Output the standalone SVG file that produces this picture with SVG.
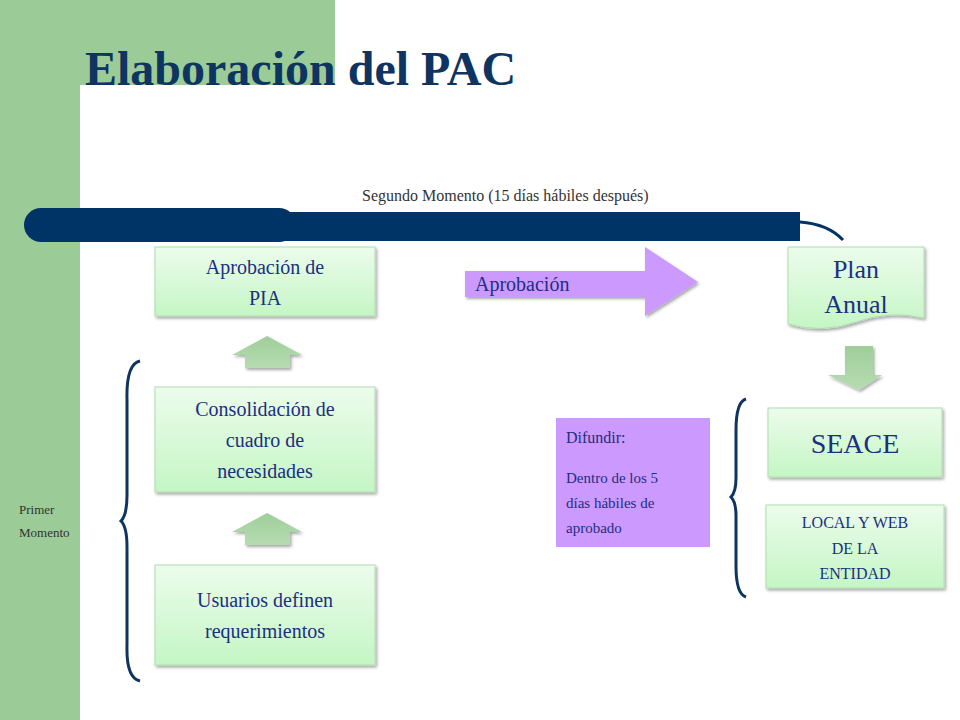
<svg xmlns="http://www.w3.org/2000/svg" width="960" height="720" viewBox="0 0 960 720">
<defs>
<linearGradient id="g" x1="0" y1="0" x2="0" y2="1"><stop offset="0" stop-color="#ecfcec"/><stop offset="1" stop-color="#c4f6c4"/></linearGradient>
<linearGradient id="ga" x1="0" y1="0" x2="0" y2="1"><stop offset="0" stop-color="#9fce9a"/><stop offset="1" stop-color="#b6dcb2"/></linearGradient>
<filter id="sh" x="-10%" y="-10%" width="130%" height="130%"><feDropShadow dx="1.5" dy="2" stdDeviation="1.5" flood-color="#000" flood-opacity="0.35"/></filter>
<style>
.box{fill:url(#g);stroke:#b0dcb0;stroke-width:1;filter:url(#sh)}
.t{font-family:"Liberation Serif",serif;fill:#1c2f80;text-anchor:middle}
.br{fill:none;stroke:#0e3461;stroke-width:3}
.ga{fill:url(#ga);filter:url(#sh)}
</style>
</defs>
<rect width="960" height="720" fill="#fff"/>
<rect x="0" y="0" width="80" height="720" fill="#9bcb97"/>
<rect x="0" y="0" width="335" height="85" fill="#9bcb97"/>
<path d="M80 720 V115 Q80 85 110 85 H335 V720 Z" fill="#fff"/>
<text x="85" y="85" font-family="Liberation Serif,serif" font-size="48" font-weight="bold" fill="#0e3461">Elaboración del PAC</text>
<text x="362" y="201" font-family="Liberation Serif,serif" font-size="16" fill="#333">Segundo Momento (15 días hábiles después)</text>
<g id="bar">
<rect x="24" y="208" width="272" height="34" rx="17" fill="#003366"/>
<rect x="60" y="212" width="740" height="29" fill="#003366"/>
<path d="M800 222 Q828 224 843 240" fill="none" stroke="#003366" stroke-width="3"/>
</g>
<g id="n-pia"><rect class="box" x="155" y="247" width="220" height="69"/><text class="t" font-size="20"><tspan x="265" y="274">Aprobación de</tspan><tspan x="265" y="305">PIA</tspan></text></g>
<g id="n-cons"><rect class="box" x="155" y="387" width="220" height="105"/><text class="t" font-size="20"><tspan x="265" y="416">Consolidación de</tspan><tspan x="265" y="447">cuadro de</tspan><tspan x="265" y="478">necesidades</tspan></text></g>
<g id="n-usu"><rect class="box" x="155" y="565" width="220" height="100"/><text class="t" font-size="20"><tspan x="265" y="607">Usuarios definen</tspan><tspan x="265" y="638">requerimientos</tspan></text></g>
<g id="n-plan"><path class="box" d="M788 247 H924 V318 Q890 310 856 322 Q822 334 788 324 Z"/><text class="t" font-size="26"><tspan x="856" y="278">Plan</tspan><tspan x="856" y="313">Anual</tspan></text></g>
<g id="n-seace"><rect class="box" x="768" y="408" width="174" height="69"/><text class="t" font-size="28" x="855" y="453">SEACE</text></g>
<g id="n-local"><rect class="box" x="766" y="505" width="178" height="83"/><text class="t" font-size="16"><tspan x="855" y="528">LOCAL  Y  WEB</tspan><tspan x="855" y="554">DE LA</tspan><tspan x="855" y="579">ENTIDAD</tspan></text></g>
<g id="n-dif"><rect x="556" y="418" width="154" height="129" fill="#cc99ff"/><text font-family="Liberation Serif,serif" fill="#1c2f80" font-size="16"><tspan x="566" y="443">Difundir:</tspan><tspan x="566" y="483" font-size="15">Dentro de los 5</tspan><tspan x="566" y="508" font-size="15">días hábiles de</tspan><tspan x="566" y="533" font-size="15">aprobado</tspan></text></g>
<g id="n-aprob"><path d="M465 271 H645 V247 L698 282 L645 316 V297 H465 Z" fill="#cc99ff" filter="url(#sh)"/><text font-family="Liberation Serif,serif" fill="#1c2f80" font-size="20" x="475" y="291">Aprobación</text></g>
<text font-family="Liberation Serif,serif" fill="#333" font-size="13"><tspan x="19" y="514">Primer</tspan><tspan x="19" y="537">Momento</tspan></text>
<g id="connectors">
<path class="ga" d="M232 355 L267 336 L302 355 H290 V368 H245 V355 Z"/>
<path class="ga" d="M232 532 L267 513 L302 532 H290 V545 H245 V532 Z"/>
<path class="ga" d="M845 346 H873 V375 H882 L859 390 L828 375 H845 Z"/>
<path class="br" d="M140 361 Q126 364 127 400 V495 Q127 515 121 521 Q127 527 127 547 V645 Q126 678 140 681"/>
<path class="br" d="M746 399 Q736 402 736 430 V478 Q736 492 731 497 Q736 502 736 516 V566 Q736 594 746 597"/>
</g>
</svg>
